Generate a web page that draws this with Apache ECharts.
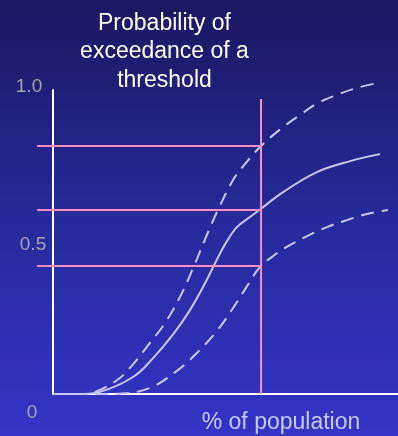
<!DOCTYPE html>
<html>
<head>
<meta charset="utf-8">
<script src="https://cdn.jsdelivr.net/npm/echarts@6/dist/echarts.min.js"></script>
<style>
html,body{margin:0;padding:0;background:#1b1760;}
#c{width:398px;height:436px;}
</style>
</head>
<body>
<div id="c"></div>
<script>
// Data (x = % of population, y = probability)
const upperCurve = [[0,0],[8,0],[12.2,0.007],[18.6,0.046],[22.3,0.086],[28.1,0.168],[32.5,0.234],[36.8,0.319],[40.6,0.414],[44.6,0.523],[47.8,0.605],[52.2,0.704],[55.7,0.757],[60.3,0.816],[66.7,0.878],[71.6,0.918],[76.8,0.957],[82.3,0.984],[88.1,1.007],[94.2,1.023]];
const medianCurve = [[0,0],[8,0],[13.6,0.007],[23.2,0.056],[29.0,0.118],[34.8,0.196],[39.7,0.276],[44.1,0.365],[47.0,0.431],[49.9,0.493],[53.3,0.549],[57.1,0.582],[60.0,0.607],[66.7,0.664],[76.5,0.730],[86.1,0.766],[94.8,0.789]];
const lowerCurve = [[0,0],[14,0],[20.3,0.002],[28.1,0.020],[35.9,0.076],[41.7,0.135],[47.5,0.207],[52.2,0.283],[55.7,0.345],[60.0,0.418],[63.5,0.451],[66.7,0.477],[72.5,0.513],[79.4,0.549],[85.2,0.572],[91.0,0.592],[97.1,0.605]];
const thresholdX = 60.3;
const thresholdYs = [0.816, 0.605, 0.421];
const thresholdTop = 0.97;
const guideStartX = -4.6;
const yTickValues = [1.0, 0.5, 0];
const yTickLabels = ['1.0', '0.5', '0'];
const titleText = 'Probability of\nexceedance of a\nthreshold';
const xAxisTitle = '% of population';

const chart = echarts.init(document.getElementById('c'), null, {renderer: 'canvas'});
const font = "'Liberation Sans', Arial, sans-serif";
const curveColor = '#c8c8f0';
const pink = '#f78fc4';

const series = [];
function curve(data, dashed) {
  series.push({
    type: 'line', data: data, smooth: 0.4, showSymbol: false, clip: false,
    silent: true, z: 2,
    lineStyle: {color: curveColor, width: 2, type: dashed ? [13, 8] : 'solid'}
  });
}
curve(upperCurve, true);
curve(medianCurve, false);
curve(lowerCurve, true);
series.push({
  type: 'line', data: [[thresholdX, 0], [thresholdX, thresholdTop]], showSymbol: false,
  clip: false, silent: true, z: 3, lineStyle: {color: pink, width: 2}
});

chart.setOption({
  backgroundColor: new echarts.graphic.LinearGradient(0, 0, 0, 1, [
    {offset: 0, color: '#1b1760'}, {offset: 0.5, color: '#262a9a'}, {offset: 1, color: '#3434c6'}
  ]),
  animation: false,
  grid: {left: 53, right: 0, top: 90, bottom: 42},
  xAxis: {
    type: 'value', min: 0, max: 100,
    axisLine: {show: true, lineStyle: {color: '#ffffff', width: 2}},
    axisTick: {show: false}, axisLabel: {show: false}, splitLine: {show: false}
  },
  yAxis: {
    type: 'value', min: 0, max: 1,
    axisLine: {show: true, lineStyle: {color: '#ffffff', width: 2}},
    axisTick: {show: false}, axisLabel: {show: false}, splitLine: {show: false}
  },
  series: series
});

const graphics = [];
// Horizontal threshold guides, positioned through the axis scales
thresholdYs.forEach(function (y) {
  const a = chart.convertToPixel({gridIndex: 0}, [guideStartX, y]);
  const b = chart.convertToPixel({gridIndex: 0}, [thresholdX, y]);
  graphics.push({
    type: 'line', z: 10, silent: true,
    shape: {x1: a[0], y1: a[1], x2: b[0], y2: b[1]},
    style: {stroke: pink, lineWidth: 2}
  });
});
// Tick labels placed through the axis scale, with the reference's offsets
const labelOffsets = [{dx: 29, dy: -3}, {dx: 33, dy: 3}, {dx: 32, dy: 19}];
yTickValues.forEach(function (v, i) {
  const p = chart.convertToPixel({gridIndex: 0}, [0, v]);
  graphics.push({
    type: 'text', x: labelOffsets[i].dx, y: p[1] + labelOffsets[i].dy,
    style: {text: yTickLabels[i], fill: '#a6a6ae', font: '19px ' + font, textAlign: 'center', textVerticalAlign: 'middle'}
  });
});
graphics.push({
  type: 'text', x: 164.5, y: 9,
  style: {text: titleText, fill: '#ffffff', font: '23px ' + font, lineHeight: 28.5, textAlign: 'center', textVerticalAlign: 'top'}
});
graphics.push({
  type: 'text', x: 281, y: 423,
  style: {text: xAxisTitle, fill: '#c8c8ff', font: '23px ' + font, textAlign: 'center', textVerticalAlign: 'middle'}
});
chart.setOption({graphic: graphics});
</script>
</body>
</html>
